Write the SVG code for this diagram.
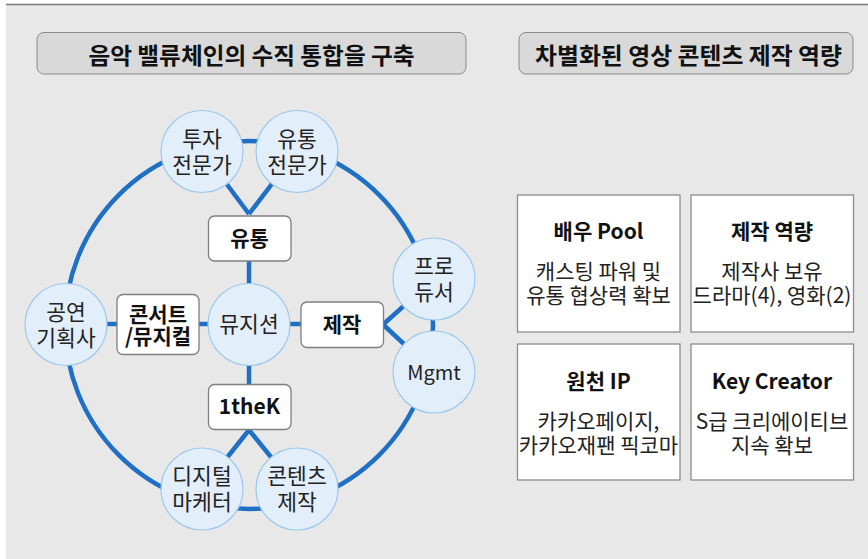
<svg xmlns="http://www.w3.org/2000/svg" width="868" height="559" viewBox="0 0 868 559">
<defs>
<style>
.hdr{fill:#d9d9d9;stroke:#8a8a8a;stroke-width:1}
.hdrt{font-family:"Noto Sans CJK KR","Noto Sans",sans-serif;font-weight:700;font-size:23px;fill:#111;text-anchor:middle}
.ring{fill:none;stroke:#1f6fc5;stroke-width:4.5}
.edge{stroke:#1f6fc5;stroke-width:4.5;fill:none}
.cn{fill:#e2eef9;stroke:#9cc8ef;stroke-width:1.2}
.ct{font-family:"Noto Sans CJK KR","Noto Sans",sans-serif;font-size:21.5px;fill:#222;text-anchor:middle}
.bx{fill:#fff;stroke:#7f7f7f;stroke-width:1.3}
.bt{font-family:"Noto Sans CJK KR","Noto Sans",sans-serif;font-weight:700;font-size:21px;fill:#111;text-anchor:middle}
.card{fill:#fff;stroke:#8c8c8c;stroke-width:1.3}
.body{font-family:"Noto Sans CJK KR","Noto Sans",sans-serif;font-size:21px;fill:#222;text-anchor:middle}
</style>
</defs>
<rect x="0" y="0" width="868" height="559" fill="#ffffff"/>
<rect x="6" y="4.5" width="862" height="555" fill="#e8e8e8"/>
<line x1="6" y1="4.5" x2="868" y2="4.5" stroke="#777" stroke-width="1.5"/>

<g id="header-left">
<rect class="hdr" x="37" y="32.5" width="429" height="41.5" rx="7"/>
<text class="hdrt" x="251.5" y="63.5" textLength="326" lengthAdjust="spacingAndGlyphs">음악 밸류체인의 수직 통합을 구축</text>
</g>
<g id="header-right">
<rect class="hdr" x="519" y="32.5" width="334" height="41.5" rx="7"/>
<text class="hdrt" x="688.5" y="63.5" textLength="307" lengthAdjust="spacingAndGlyphs">차별화된 영상 콘텐츠 제작 역량</text>
</g>

<g id="connectors">
<circle class="ring" cx="249" cy="325" r="184"/>
<line class="edge" x1="202" y1="151" x2="249" y2="214"/>
<line class="edge" x1="297" y1="151" x2="249" y2="214"/>
<line class="edge" x1="249" y1="260" x2="249" y2="290"/>
<line class="edge" x1="66" y1="324" x2="249" y2="324"/>
<line class="edge" x1="249" y1="324" x2="305" y2="324"/>
<line class="edge" x1="383" y1="324.5" x2="434" y2="279"/>
<line class="edge" x1="383" y1="324.5" x2="434" y2="372"/>
<line class="edge" x1="249" y1="360" x2="249" y2="388"/>
<line class="edge" x1="249" y1="430" x2="202" y2="489"/>
<line class="edge" x1="249" y1="430" x2="297" y2="489"/>
</g>

<g id="n-invest">
<circle class="cn" cx="202" cy="151.5" r="41"/>
<text class="ct" x="202" y="146.5">투자</text>
<text class="ct" x="202" y="172.5">전문가</text>
</g>
<g id="n-dist-expert">
<circle class="cn" cx="297" cy="151.5" r="41"/>
<text class="ct" x="297" y="146.5">유통</text>
<text class="ct" x="297" y="172.5">전문가</text>
</g>
<g id="n-producer">
<circle class="cn" cx="434" cy="279" r="41"/>
<text class="ct" x="434" y="274">프로</text>
<text class="ct" x="434" y="300">듀서</text>
</g>
<g id="n-mgmt">
<circle class="cn" cx="434" cy="372" r="41"/>
<text class="ct" x="434" y="379.5" style="font-size:20px">Mgmt</text>
</g>
<g id="n-concert-planner">
<circle class="cn" cx="66" cy="324.5" r="41"/>
<text class="ct" x="66" y="319.5">공연</text>
<text class="ct" x="66" y="345.5">기획사</text>
</g>
<g id="n-musician">
<circle class="cn" cx="249" cy="324.5" r="41"/>
<text class="ct" x="249" y="332">뮤지션</text>
</g>
<g id="n-digital">
<circle class="cn" cx="202" cy="489" r="41"/>
<text class="ct" x="202" y="484">디지털</text>
<text class="ct" x="202" y="510">마케터</text>
</g>
<g id="n-content">
<circle class="cn" cx="297" cy="489" r="41"/>
<text class="ct" x="297" y="484">콘텐츠</text>
<text class="ct" x="297" y="510">제작</text>
</g>

<g id="b-dist">
<rect class="bx" x="208.5" y="216" width="82.5" height="45" rx="6"/>
<text class="bt" x="249.5" y="246">유통</text>
</g>
<g id="b-concert">
<rect class="bx" x="117" y="294.5" width="82" height="60" rx="6"/>
<text class="bt" x="158" y="322">콘서트</text>
<text class="bt" x="158" y="344">/뮤지컬</text>
</g>
<g id="b-production">
<rect class="bx" x="301" y="302" width="82.5" height="45.5" rx="6"/>
<text class="bt" x="342" y="332">제작</text>
</g>
<g id="b-1thek">
<rect class="bx" x="208.5" y="384.5" width="82.5" height="45" rx="6"/>
<text class="bt" x="249.5" y="414">1theK</text>
</g>

<g id="card-actor">
<rect class="card" x="517.5" y="195" width="162.5" height="137"/>
<text class="bt" x="598.5" y="238.5">배우 Pool</text>
<text class="body" x="598.5" y="278.5">캐스팅 파워 및</text>
<text class="body" x="598.5" y="302.5">유통 협상력 확보</text>
</g>
<g id="card-capability">
<rect class="card" x="691" y="195" width="162.5" height="137"/>
<text class="bt" x="772" y="238.5">제작 역량</text>
<text class="body" x="772" y="278.5">제작사 보유</text>
<text class="body" x="772" y="302.5">드라마(4), 영화(2)</text>
</g>
<g id="card-ip">
<rect class="card" x="517.5" y="344" width="162.5" height="136"/>
<text class="bt" x="598.5" y="388.5">원천 IP</text>
<text class="body" x="598.5" y="428.5">카카오페이지,</text>
<text class="body" x="598.5" y="452.5">카카오재팬 픽코마</text>
</g>
<g id="card-creator">
<rect class="card" x="691" y="344" width="162.5" height="136"/>
<text class="bt" x="772" y="388.5">Key Creator</text>
<text class="body" x="772" y="428.5">S급 크리에이티브</text>
<text class="body" x="772" y="452.5">지속 확보</text>
</g>
</svg>
